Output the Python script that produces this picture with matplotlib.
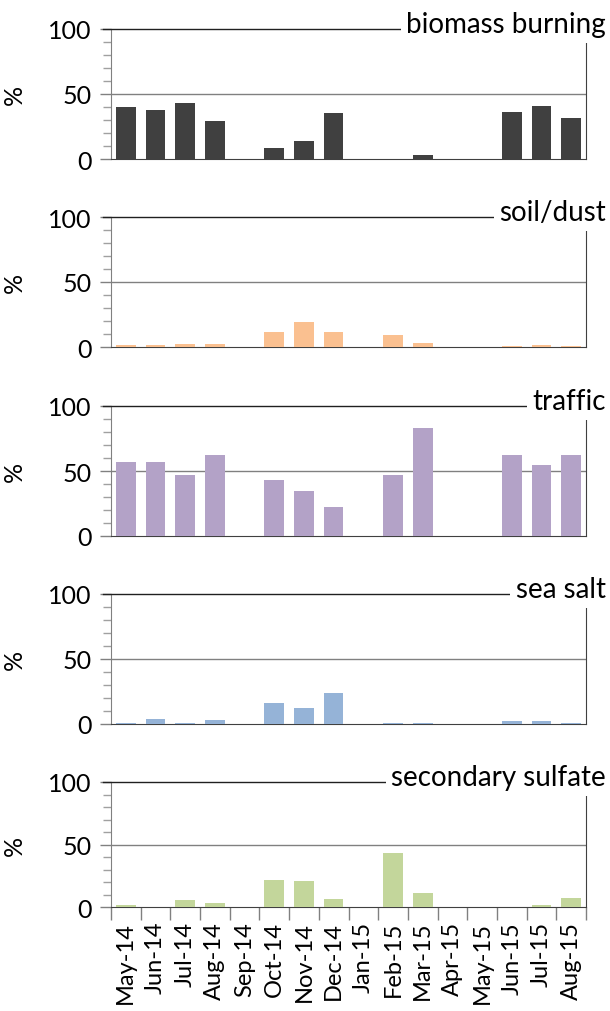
import numpy as np
import matplotlib
matplotlib.use("Agg")
import matplotlib.pyplot as plt

plt.rcParams['font.family'] = ['Lato', 'DejaVu Sans']

months = ["May-14", "Jun-14", "Jul-14", "Aug-14", "Sep-14", "Oct-14", "Nov-14", "Dec-14",
          "Jan-15", "Feb-15", "Mar-15", "Apr-15", "May-15", "Jun-15", "Jul-15", "Aug-15"]

biomass = [40, 38, 43, 29, 0, 8.5, 13.5, 35.5, 0, 0, 2.8, 0, 0, 36, 41, 31.5]
soil = [1.3, 1.3, 2.3, 2.3, 0, 11.3, 19.3, 11.3, 0, 9.3, 3.3, 0, 0, 0.4, 1.3, 0.4]
traffic = [57, 57, 47, 62, 0, 43, 35, 22.5, 0, 47, 83, 0, 0, 62, 55, 62]
seasalt = [1, 4, 1, 3, 0, 16, 12, 24, 0, 1, 0.4, 0, 0, 2, 2, 0.4]
sulfate = [1.3, 0, 5.3, 3.5, 0, 22, 21, 6.5, 0, 43.5, 11.5, 0, 0, 0, 1.3, 7.5]

series = [biomass, soil, traffic, seasalt, sulfate]
titles = ["biomass burning", "soil/dust", "traffic", "sea salt", "secondary sulfate"]
colors = ["#404040", "#FAC090", "#B3A2C7", "#95B3D7", "#C3D69B"]

W, H = 610, 1012
fig = plt.figure(figsize=(W / 100, H / 100), dpi=100)

# panel top/bottom in pixels (value 100 / value 0)
panels = [(30, 160), (218, 348), (407, 537), (595, 725), (783, 908)]
left_px, right_px = 111, 586

x = np.arange(len(months))
for i, (vals, title, col) in enumerate(zip(series, titles, colors)):
    top, bot = panels[i]
    ax = fig.add_axes([left_px / W, 1 - bot / H, (right_px - left_px) / W, (bot - top) / H])
    ax.bar(x, vals, width=0.66, color=col, zorder=3)
    ax.set_xlim(-0.5, 15.5)
    ax.set_ylim(0, 100)
    ax.set_yticks([0, 50, 100])
    ax.set_yticks(np.arange(10, 100, 10), minor=True)
    ax.tick_params(axis='y', which='major', length=8, width=1, color='#808080',
                   labelsize=18, pad=6)
    ax.tick_params(axis='y', which='minor', length=6, width=1, color='#a0a0a0')
    ax.axhline(50, color='#808080', lw=1, zorder=1)
    ax.spines['top'].set_visible(False)
    ax.spines['left'].set_color('#808080')
    ax.spines['bottom'].set_color('#404040')
    ax.spines['right'].set_color('#404040')
    ax.spines['right'].set_bounds(0, 90)
    # top border line, hidden behind the title box at its right end
    ax.plot([-8 / 475, 1], [1, 1], transform=ax.transAxes, color='#202020', lw=1,
            clip_on=False, zorder=4)
    ax.text((606 - left_px) / 475, 1 - 3 / (bot - top), title, transform=ax.transAxes,
            ha='right', va='baseline', fontsize=20, color='black', zorder=5,
            bbox=dict(facecolor='white', edgecolor='none', pad=4))
    ax.set_ylabel("%", fontsize=18, labelpad=16)
    if i < 4:
        ax.set_xticks([])
    else:
        ax.set_xticks(x)
        ax.set_xticklabels(months, rotation=90, fontsize=17)
        ax.set_xticks(np.arange(-0.5, 16, 1), minor=True)
        ax.tick_params(axis='x', which='major', length=0, pad=10)
        ax.tick_params(axis='x', which='minor', length=9, width=1, color='#808080')

fig.savefig("out.png", dpi=100)
